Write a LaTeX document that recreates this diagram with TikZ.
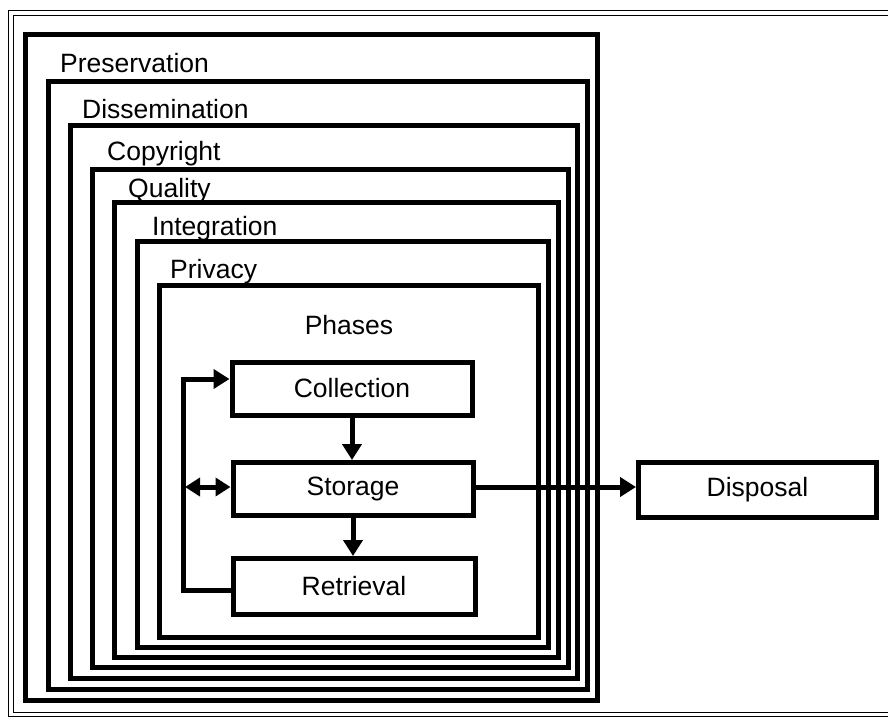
\documentclass[tikz,border=0pt]{standalone}
\usepackage{fontspec}
\setmainfont{Liberation Sans}
\usetikzlibrary{arrows.meta}
\begin{document}
\begin{tikzpicture}[x=1pt,y=-1pt,
  thin frame/.style={line width=1.8pt},
  layer/.style={line width=5pt, line join=miter},
  lbl/.style={anchor=base west, inner sep=0pt, font=\fontsize{26.5}{31}\selectfont},
  box/.style={draw, line width=5pt, minimum width=240pt, minimum height=53pt, inner sep=0pt, font=\fontsize{26.5}{31}\selectfont},
  arr/.style={line width=5pt, line join=miter, -{Triangle[length=16pt,width=19pt]}},
  darr/.style={line width=5pt, {Triangle[length=15pt,width=18pt]}-{Triangle[length=15pt,width=18pt]}},
]
\useasboundingbox (0,0) rectangle (888,717);
% outer double frame
\draw[thin frame] (8.5,10.5) rectangle (895,716.5);
\draw[thin frame] (13.5,15.5) rectangle (895,712.5);
% nested layers
\draw[layer] (25,35) rectangle (597,700);
\draw[layer] (48,81) rectangle (587,689);
\draw[layer] (70,125) rectangle (577,678);
\draw[layer] (92,169) rectangle (568,667);
\draw[layer] (114,202) rectangle (558,657);
\draw[layer] (137,241) rectangle (548,647);
\draw[layer] (159,285) rectangle (538,637);
% labels
\node[lbl] (lpres) at (60,73) {Preservation};
\node[lbl] (ldiss) at (82,118) {Dissemination};
\node[lbl] (lcopy) at (107,160) {Copyright};
\node[lbl] (lqual) at (128,197) {Quality};
\node[lbl] (linte) at (152,235) {Integration};
\node[lbl] (lpriv) at (170,278) {Privacy};
\node[lbl, anchor=base] (lphas) at (349,334) {Phases};
% phase boxes
\node[box] (coll) at (352,388.5) {Collection};
\node[box] (stor) at (353,489) {Storage};
\node[box, minimum width=242pt, minimum height=56pt] (retr) at (354,586.5) {Retrieval};
\node[box, minimum width=238pt, minimum height=55pt] (disp) at (757.5,490) {Disposal};
% connectors
\coordinate (lt) at (183,379);
\coordinate (lb) at (183,590);
\coordinate (lm) at (185,487);
\draw[arr] (coll.south) -- (coll.south |- stor.north);
\draw[arr] (stor.south) -- (stor.south |- retr.north);
\draw[arr] (retr.west |- lb) -- (lb) -- (lt) -- (coll.west |- lt);
\draw[darr] (lm) -- (stor.west |- lm);
\draw[arr] (stor.east |- lm) -- (disp.west |- lm);
\end{tikzpicture}
\end{document}
